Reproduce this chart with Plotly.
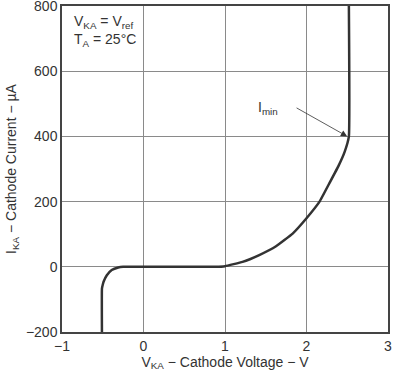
import plotly.graph_objects as go

# Curve data: cathode voltage (V) vs cathode current (uA)
v_ka = [-0.51, -0.51, -0.50, -0.49, -0.45, -0.39, -0.31, -0.25,
        0.0, 0.5, 0.885, 1.0, 1.215, 1.42, 1.626, 1.83, 2.0, 2.16,
        2.28, 2.39, 2.47, 2.52, 2.52]
i_ka = [-200, -67, -55, -46, -26, -10, -2, 0,
        0, 0, 0, 2, 15, 36, 63, 102, 149, 200,
        256, 308, 354, 400, 800]

x_ticks = [-1, 0, 1, 2, 3]
y_ticks = [-200, 0, 200, 400, 600, 800]

fig = go.Figure()
fig.add_trace(go.Scatter(x=v_ka, y=i_ka, mode="lines",
                         line=dict(color="#333333", width=2.5, shape="spline", smoothing=0.3),
                         hoverinfo="skip", showlegend=False))

fig.add_annotation(x=2.5, y=400, ax=1.86, ay=490, xref="x", yref="y", axref="x", ayref="y",
                   text="", showarrow=True, arrowhead=2, arrowsize=1.6, arrowwidth=0.8,
                   arrowcolor="#333333", standoff=0)
fig.add_annotation(x=1.53, y=487, xref="x", yref="y", text="I<sub>min</sub>",
                   showarrow=False, font=dict(size=14, color="#333333"), bgcolor="white")
fig.add_annotation(x=0.03, y=0.985, xref="paper", yref="paper", xanchor="left", yanchor="top",
                   align="left", showarrow=False, bgcolor="white",
                   text="V<sub>KA</sub> = V<sub>ref</sub><br>T<sub>A</sub> = 25°C",
                   font=dict(size=14, color="#333333"))

axis_common = dict(showgrid=True, gridcolor="#8a8a8a", gridwidth=1, zeroline=False,
                   showline=True, linecolor="#444444", linewidth=1.5, mirror=True,
                   ticks="", tickfont=dict(size=14, color="#333333"),
                   automargin=False, ticklabeloverflow="allow")

fig.update_xaxes(range=[-1, 3], tickvals=x_ticks,
                 title=dict(text="V<sub>KA</sub> − Cathode Voltage − V",
                            font=dict(size=14, color="#333333"), standoff=4),
                 **axis_common)
fig.update_yaxes(range=[-200, 800], tickvals=y_ticks,
                 title=dict(text="I<sub>KA</sub> − Cathode Current − µA",
                            font=dict(size=14, color="#333333"), standoff=6),
                 **axis_common)

fig.update_layout(width=393, height=377, margin=dict(l=62, r=5, t=6, b=45),
                  plot_bgcolor="white", paper_bgcolor="white",
                  font=dict(family="Liberation Sans, Arial, sans-serif", color="#333333"))

fig.write_html("out.html", config={"displayModeBar": False},
               post_script="document.body.style.margin='0';document.body.style.overflow='hidden';")
